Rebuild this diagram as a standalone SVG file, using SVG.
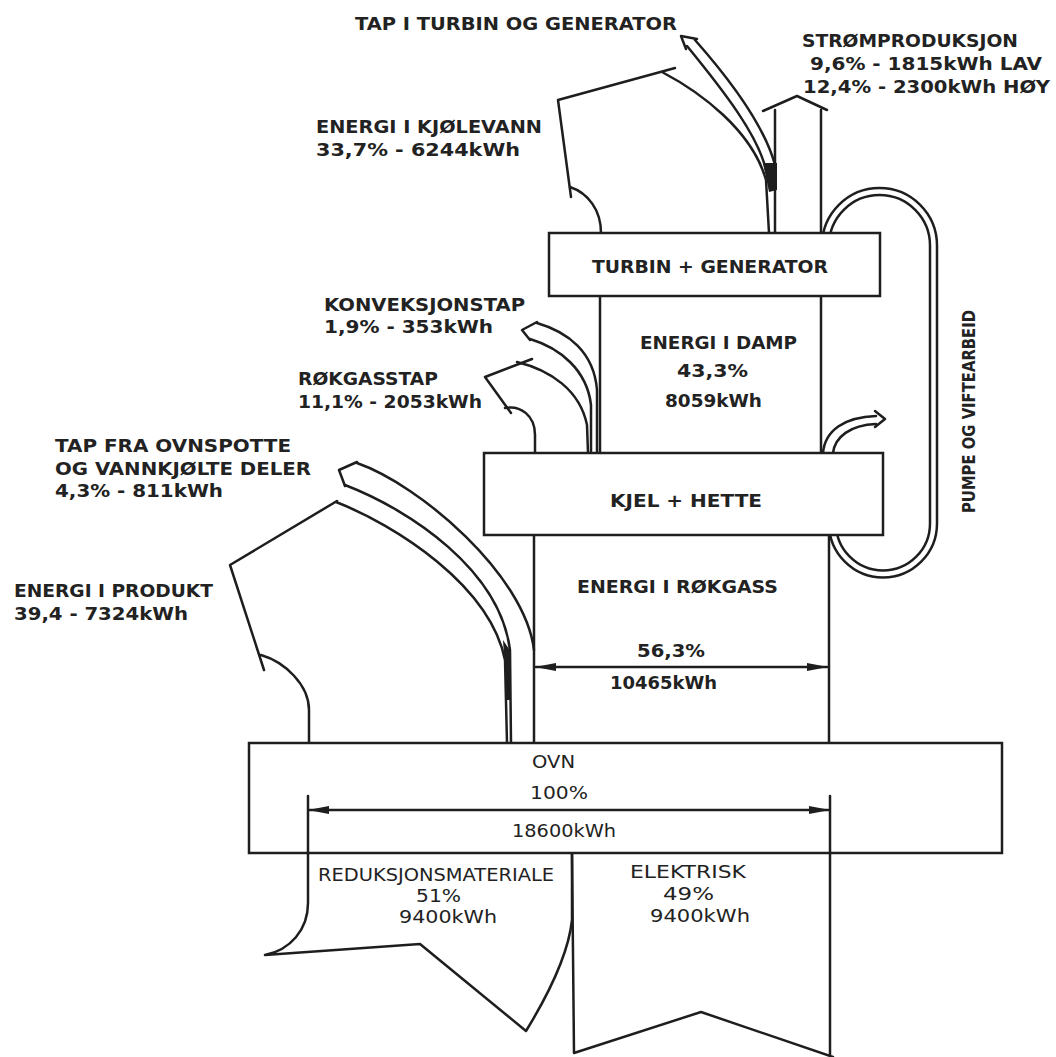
<svg xmlns="http://www.w3.org/2000/svg" width="1056" height="1057" viewBox="0 0 1056 1057">
<style>
.ln{fill:none;stroke:#1e1e1e;stroke-width:2.5;stroke-linejoin:round;stroke-linecap:round}
.bx{fill:#fff;stroke:#1e1e1e;stroke-width:2.5}
.ah{fill:#1e1e1e;stroke:none}
.t{font-family:"DejaVu Sans","Liberation Sans",sans-serif;font-size:18px;font-weight:bold;fill:#222}
.n{font-weight:normal}
</style>
<rect width="1056" height="1057" fill="#fff"/>
<g id="connectors">
  <path class="ln" d="M822 245.5 A57.5 57.5 0 0 1 937 245.5 L937 523.5 A54 54 0 0 1 829 523.5"/>
  <path class="ln" d="M829 245.5 A50.5 50.5 0 0 1 930 245.5 L930 523.5 A47 47 0 0 1 836 523.5"/>
  <path class="ln" d="M571 197 L558 100 L675 68"/>
  <path class="ln" d="M570 187 C588 193 601 210 601 233"/>
  <path class="ln" d="M662 72 C700 92 752 130 766 180 L769 233"/>
  <path class="ln" d="M687 46 C723 90 758 135 766 170"/>
  <path class="ln" d="M695 40 C733 83 765 128 775 165"/>
  <path class="ln" d="M686 49 L681 36 L697 39"/>
  <path class="ah" d="M763 163 L777 163 L777 190 L769 192 Z"/>
  <path class="ln" d="M775 233 L775 110 M763 111 L797 96 L827 110 M821 110 L821 233"/>
  <path class="ln" d="M600 296 L600 453 M821 296 L821 453"/>
  <path class="ln" d="M537 323 C568 332 594 352 597 390 L597 453"/>
  <path class="ln" d="M530 339 C560 348 587 370 591 405 L591 453"/>
  <path class="ln" d="M537 322 L522 330 L530 340"/>
  <path class="ln" d="M532 359 L485 377 L511 413"/>
  <path class="ln" d="M505 408 C520 405 535 415 535 435 L535 453"/>
  <path class="ln" d="M517 362 C550 370 580 390 587 425 L588 453"/>
  <path class="ln" d="M823 453 C825 430 845 417 876 416"/>
  <path class="ln" d="M833 453 C835 437 850 425 876 424"/>
  <path class="ln" d="M875 411 L885 419 L875 427"/>
  <path class="ln" d="M534 535 L534 743 M829 535 L829 743"/>
  <path class="ln" d="M357 463 C420 485 525 575 534 650"/>
  <path class="ln" d="M345 485 C410 510 500 570 510 650 L511 743"/>
  <path class="ln" d="M357 462 L339 470 L345 486"/>
  <path class="ah" d="M503 640 L511 652 L511 700 L507 700 Z"/>
  <path class="ln" d="M336 502 C395 525 490 585 505 660 L507 743"/>
  <path class="ln" d="M337 501 L230 565 L264 670"/>
  <path class="ln" d="M261 655 C285 662 309 685 309 710 L309 743"/>
  <path class="ln" d="M536 667 L827 667"/>
  <path class="ah" d="M535 667 L556 663 L556 671 Z"/>
  <path class="ah" d="M828 667 L807 663 L807 671 Z"/>
  <path class="ln" d="M308 853 L308 903 C308 930 290 950 265 955 L420 944 L526 1031 C545 1000 568 958 572 920 L572 853"/>
  <path class="ln" d="M572 853 L574 1053 L701 1012 L833 1057 M830 853 L830 1057"/>
</g>
<g id="turbin-generator">
  <rect class="bx" x="549" y="233" width="331" height="63"/>
  <text class="t" x="592" y="273" textLength="236" lengthAdjust="spacingAndGlyphs">TURBIN + GENERATOR</text>
</g>
<g id="kjel-hette">
  <rect class="bx" x="484" y="453" width="399" height="82"/>
  <text class="t" x="610" y="507" textLength="152" lengthAdjust="spacingAndGlyphs">KJEL + HETTE</text>
</g>
<g id="ovn">
  <rect class="bx" x="249" y="743" width="753" height="110"/>
  <path class="ln" d="M308 796 L308 853 M830 796 L830 853 M310 810 L828 810"/>
  <path class="ah" d="M308 810 L329 806 L329 814 Z"/>
  <path class="ah" d="M830 810 L809 806 L809 814 Z"/>
  <text class="t n" x="532" y="768" textLength="43" lengthAdjust="spacingAndGlyphs">OVN</text>
  <text class="t n" x="530" y="799" textLength="58" lengthAdjust="spacingAndGlyphs">100%</text>
  <text class="t n" x="512" y="837" textLength="104" lengthAdjust="spacingAndGlyphs">18600kWh</text>
</g>
<g id="labels">
  <text class="t" x="355" y="30" textLength="322" lengthAdjust="spacingAndGlyphs">TAP I TURBIN OG GENERATOR</text>
  <text class="t" x="802" y="47" textLength="216" lengthAdjust="spacingAndGlyphs">STRØMPRODUKSJON</text>
  <text class="t" x="810" y="70" textLength="232" lengthAdjust="spacingAndGlyphs">9,6% - 1815kWh LAV</text>
  <text class="t" x="803" y="93" textLength="247" lengthAdjust="spacingAndGlyphs">12,4% - 2300kWh HØY</text>
  <text class="t" x="316" y="133" textLength="226" lengthAdjust="spacingAndGlyphs">ENERGI I KJØLEVANN</text>
  <text class="t" x="316" y="156" textLength="204" lengthAdjust="spacingAndGlyphs">33,7% - 6244kWh</text>
  <text class="t" x="640" y="349" textLength="157" lengthAdjust="spacingAndGlyphs">ENERGI I DAMP</text>
  <text class="t" x="677" y="377" textLength="71" lengthAdjust="spacingAndGlyphs">43,3%</text>
  <text class="t" x="665" y="407" textLength="97" lengthAdjust="spacingAndGlyphs">8059kWh</text>
  <text class="t" x="324" y="311" textLength="201" lengthAdjust="spacingAndGlyphs">KONVEKSJONSTAP</text>
  <text class="t" x="324" y="333" textLength="169" lengthAdjust="spacingAndGlyphs">1,9% - 353kWh</text>
  <text class="t" x="298" y="385" textLength="140" lengthAdjust="spacingAndGlyphs">RØKGASSTAP</text>
  <text class="t" x="298" y="408" textLength="184" lengthAdjust="spacingAndGlyphs">11,1% - 2053kWh</text>
  <text class="t" x="55" y="452" textLength="236" lengthAdjust="spacingAndGlyphs">TAP FRA OVNSPOTTE</text>
  <text class="t" x="55" y="475" textLength="256" lengthAdjust="spacingAndGlyphs">OG VANNKJØLTE DELER</text>
  <text class="t" x="55" y="497" textLength="168" lengthAdjust="spacingAndGlyphs">4,3% - 811kWh</text>
  <text class="t" x="14" y="597" textLength="199" lengthAdjust="spacingAndGlyphs">ENERGI I PRODUKT</text>
  <text class="t" x="14" y="620" textLength="174" lengthAdjust="spacingAndGlyphs">39,4 - 7324kWh</text>
  <text class="t" x="577" y="593" textLength="201" lengthAdjust="spacingAndGlyphs">ENERGI I RØKGASS</text>
  <text class="t" x="637" y="657" textLength="68" lengthAdjust="spacingAndGlyphs">56,3%</text>
  <text class="t" x="610" y="689" textLength="107" lengthAdjust="spacingAndGlyphs">10465kWh</text>
  <text class="t n" x="318" y="881" textLength="236" lengthAdjust="spacingAndGlyphs">REDUKSJONSMATERIALE</text>
  <text class="t n" x="416" y="902" textLength="45" lengthAdjust="spacingAndGlyphs">51%</text>
  <text class="t n" x="399" y="923" textLength="98" lengthAdjust="spacingAndGlyphs">9400kWh</text>
  <text class="t n" x="630" y="878" textLength="116" lengthAdjust="spacingAndGlyphs">ELEKTRISK</text>
  <text class="t n" x="663" y="900" textLength="51" lengthAdjust="spacingAndGlyphs">49%</text>
  <text class="t n" x="650" y="922" textLength="100" lengthAdjust="spacingAndGlyphs">9400kWh</text>
  <text class="t" transform="translate(975 513) rotate(-90)" x="0" y="0" font-size="24" textLength="203" lengthAdjust="spacingAndGlyphs">PUMPE OG VIFTEARBEID</text>
</g>
</svg>
